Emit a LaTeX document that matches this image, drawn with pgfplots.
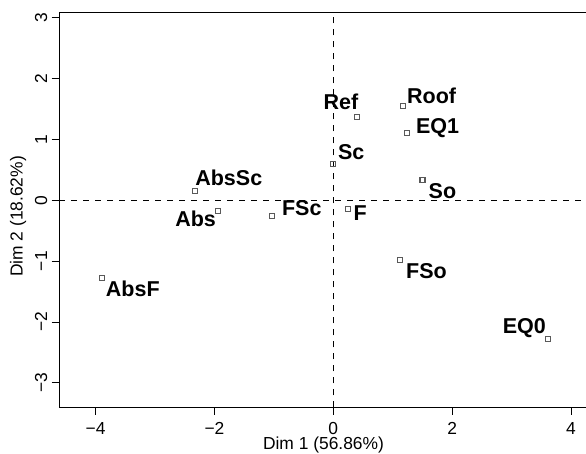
\documentclass[border=0pt]{standalone}
\usepackage{pgfplots}
\pgfplotsset{compat=1.18}
\usepackage{fontspec}
\setmainfont{Liberation Sans}
\begin{document}
\begin{tikzpicture}
\useasboundingbox (-29.65pt,-23.35pt) rectangle (263.35pt,203.65pt);
\clip (-29.65pt,-23.35pt) rectangle (263.35pt,203.65pt);
\begin{axis}[
  at={(0pt,0pt)}, anchor=south west,
  scale only axis, width=264.2pt, height=197.5pt,
  xmin=-4.61, xmax=4.28, ymin=-3.40, ymax=3.09,
  xtick={-4,-2,0,2,4}, xticklabels={−4,−2,0,2,4},
  ytick={-3,-2,-1,0,1,2,3}, yticklabels={−3,−2,−1,0,1,2,3},
  tick align=outside, major tick length=3.85pt,
  xtick pos=bottom, ytick pos=left,
  tick style={black, line width=0.5pt},
  axis line style={line width=0.6pt},
  /pgf/number format/assume math mode=true,
  tick label style={font=\fontsize{8.7}{10}\selectfont, inner sep=0pt},
  xticklabel style={anchor=north, yshift=-3.4pt},
  yticklabel style={rotate=90, anchor=south, yshift=2pt},
  xlabel={Dim 1 (56.86\%)}, ylabel={Dim 2 (18.62\%)},
  label style={font=\fontsize{8.7}{10}\selectfont, inner sep=0pt},
  xlabel style={at={([yshift=-18.9pt]axis description cs:0.5,0)}, anchor=center},
  ylabel style={at={([xshift=-20.6pt]axis description cs:0,0.483)}, anchor=center},
  clip=false,
]
\addplot[black, dashed, line width=0.5pt] coordinates {(0,-3.40) (0,3.09)};
\addplot[black, dashed, line width=0.5pt] coordinates {(-4.61,0) (4.28,0)};
\addplot[only marks, mark=square, mark size=1.25pt, mark options={draw=black!65, line width=0.55pt}] coordinates {
(-2.333,0.153) (-1.946,-0.176) (-1.037,-0.263) (-3.889,-1.273)
(0.394,1.370) (1.168,1.546) (1.236,1.107) (0,0.597)
(1.500,0.329) (0.242,-0.138) (1.123,-0.982) (3.614,-2.281)
};
\begin{scope}[every node/.style={anchor=base west, inner sep=0pt, font=\fontsize{10.75}{12}\selectfont\bfseries}]
\node at (axis cs:-2.328,0.240) {AbsSc};
\node at (axis cs:-2.665,-0.434) {Abs};
\node at (axis cs:-0.869,-0.242) {FSc};
\node at (axis cs:-3.832,-1.586) {AbsF};
\node at (axis cs:-0.168,1.485) {Ref};
\node at (axis cs:1.236,1.595) {Roof};
\node at (axis cs:1.387,1.102) {EQ1};
\node at (axis cs:0.074,0.663) {Sc};
\node at (axis cs:1.599,0.033) {So};
\node at (axis cs:0.337,-0.324) {F};
\node at (axis cs:1.219,-1.283) {FSo};
\node at (axis cs:2.845,-2.188) {EQ0};
\end{scope}
\end{axis}
\end{tikzpicture}
\end{document}
